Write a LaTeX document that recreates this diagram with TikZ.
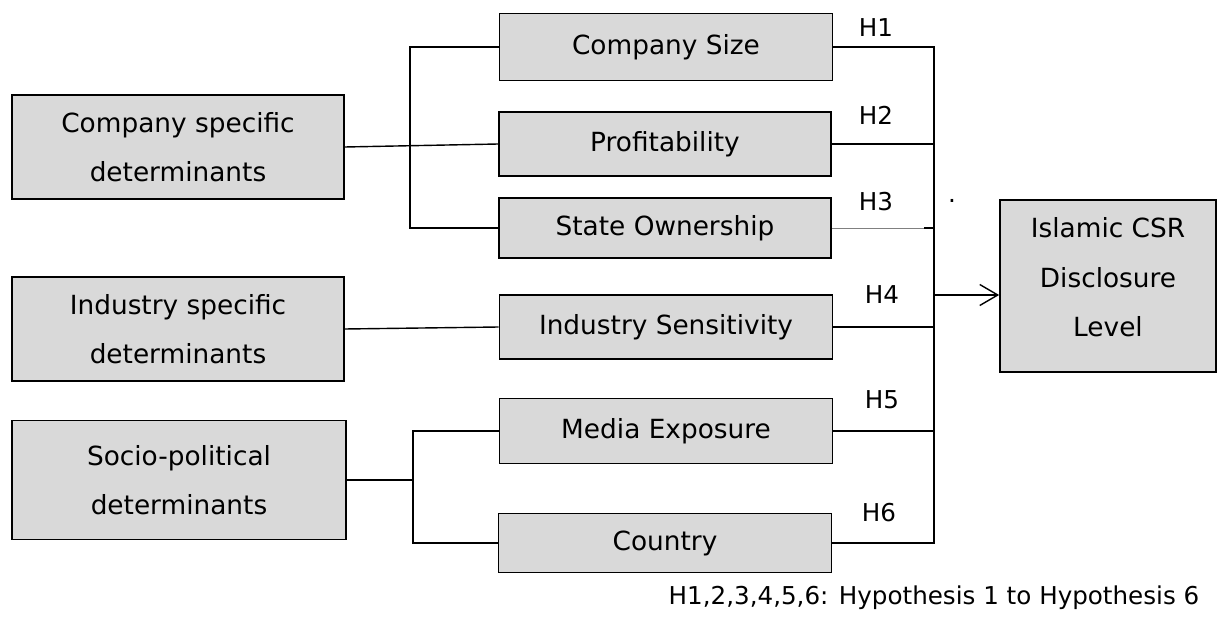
\documentclass[tikz,border=0pt]{standalone}
\usepackage{fontspec}
\setmainfont{DejaVu Sans}
\usetikzlibrary{arrows.meta,positioning,calc}

\begin{document}
\begin{tikzpicture}[x=0.02cm,y=-0.02cm,
        box/.style={draw,line width=1pt,fill=black!15,align=center,inner sep=0pt,
            font=\fontsize{15}{28}\selectfont},
        link/.style={line width=0.8pt},
        hyp/.style={font=\fontsize{14}{16}\selectfont,inner sep=0pt}]
        \useasboundingbox (0,0) rectangle (1221,618);

        % Determinant groups (left)
        \node[box,minimum width=6.64cm,minimum height=2.08cm] (csd) at (178,147) {Company specific\\determinants};
        \node[box,minimum width=6.64cm,minimum height=2.08cm] (isd) at (178,329) {Industry specific\\determinants};
        \node[box,minimum width=6.68cm,minimum height=2.38cm] (spd) at (179,480) {Socio-political\\determinants};

        % Variables (middle)
        \node[box,minimum width=6.66cm,minimum height=1.34cm] (size) at (666,47) {Company Size};
        \node[box,minimum width=6.64cm,minimum height=1.28cm] (prof) at (665,144) {Profitability};
        \node[box,minimum width=6.64cm,minimum height=1.2cm] (state) at (665,228) {State Ownership};
        \node[box,minimum width=6.66cm,minimum height=1.28cm] (sens) at (666,327) {Industry Sensitivity};
        \node[box,minimum width=6.66cm,minimum height=1.3cm] (media) at (666,431) {Media Exposure};
        \node[box,minimum width=6.66cm,minimum height=1.18cm] (country) at (665,543) {Country};

        % Outcome (right)
        \node[box,minimum width=4.32cm,minimum height=3.44cm,text depth=0.36cm] (icsr) at (1108,286) {Islamic CSR\\Disclosure\\Level};

        % Brackets on the left
        \coordinate (brA) at (410,0);
        \coordinate (brB) at (413,0);
        \draw[link] (csd.east) -- (prof.west);
        \draw[link] (size.west) -- (size.west -| brA) -- (state.west -| brA) -- (state.west);
        \draw[link] (isd.east) -- (sens.west);
        \draw[link] (spd.east) -- (spd.east -| brB);
        \draw[link] (media.west) -- (media.west -| brB) -- (country.west -| brB) -- (country.west);

        % Bus on the right
        \coordinate (bus) at (934,0);
        \draw[link] (size.east) -- (size.east -| bus) -- (country.east -| bus) -- (country.east);
        \foreach \v in {prof,sens,media} {
            \draw[link] (\v.east) -- (\v.east -| bus);
        }
        \draw[gray,line width=0.4pt] (state.east) -- ($(state.east -| bus)+(-10,0)$);
        \draw[link] ($(state.east -| bus)+(-10,0)$) -- (state.east -| bus);

        % Arrow into the outcome
        \coordinate (tip) at (934,295);
        \draw[link,-{Straight Barb[length=0.36cm,width=0.42cm,line width=0.8pt]}] (tip) -- (tip -| icsr.west);

        % Hypothesis labels
        \foreach \h/\x/\y in {1/876/28,2/876/115,3/876/202,4/882/295,5/882/400,6/879/513} {
            \node[hyp] (h\h) at (\x,\y) {H\h};
        }
        \node[hyp] (dot) at (952,201) {.};

        \node[hyp] (note) at (934,598) {H1,2,3,4,5,6: Hypothesis 1 to Hypothesis 6};

    \end{tikzpicture}
\end{document}
